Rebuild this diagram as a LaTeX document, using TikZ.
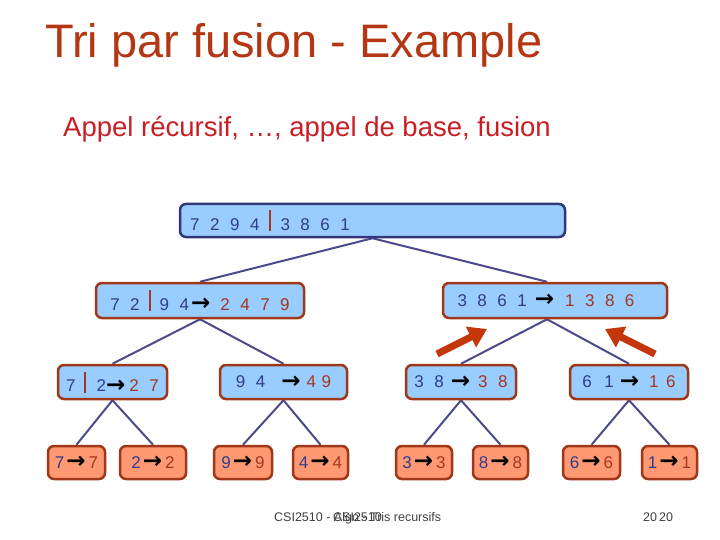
\documentclass[tikz,border=0pt]{standalone}
\usepackage{fontspec}
\setmainfont{Liberation Sans}
\newfontfamily\symfont{DejaVu Sans}
\usepackage{tikz}
\usetikzlibrary{arrows.meta,backgrounds}
\definecolor{titlered}{RGB}{180,55,20}
\definecolor{subred}{RGB}{200,30,35}
\definecolor{boxblue}{RGB}{153,204,255}
\definecolor{leaforange}{RGB}{255,153,115}
\definecolor{brd}{RGB}{160,55,25}
\definecolor{rootblue}{RGB}{50,55,120}
\definecolor{digblue}{RGB}{50,60,140}
\definecolor{digred}{RGB}{165,55,30}
\definecolor{edgeblue}{RGB}{75,75,140}
\definecolor{hintred}{RGB}{195,55,10}
\newcommand{\nb}[1]{\textcolor{digblue}{#1}}
\newcommand{\nr}[1]{\textcolor{digred}{#1}}
\newcommand{\cutbar}{\textcolor{digred}{\rule[-1pt]{2pt}{21pt}}}
\newcommand{\mto}{{\fontsize{23}{23}\symfont\bfseries\color{black}\raisebox{-0.5pt}{→}}}
\protected\def\digitgaps{\fontsize{17}{17}\selectfont\spaceskip=10.5pt\relax}
\tikzset{
  split/.style={draw=brd, fill=boxblue, line width=2.5pt, rounded corners=6pt,
    minimum height=34pt, inner sep=0pt, font=\digitgaps},
  leaf/.style={split, fill=leaforange, minimum height=33pt},
  link/.style={draw=edgeblue, line width=2pt},
  hint/.style={draw=hintred, line width=7pt, -{Triangle[length=18pt,width=22pt]}},
  foottext/.style={anchor=base west, inner sep=0pt, text=black!75, font=\fontsize{12.5}{12.5}\selectfont}
}
\begin{document}
\begin{tikzpicture}[x=1pt,y=-1pt]
\useasboundingbox (0,0) rectangle (720,540);
% titles
\node[anchor=base west, inner sep=0pt, text=titlered, font=\fontsize{47}{47}\selectfont] (title) at (45,58) {Tri par fusion - Example};
\node[anchor=base west, inner sep=0pt, text=subred, font=\fontsize{27.5}{27.5}\selectfont] (sub) at (63,137) {Appel récursif, \dots, appel de base, fusion};
% root
\node[split, draw=rootblue, minimum width=385pt, minimum height=33pt] (root) at (372.5,220.5)
  {\nb{7 2 9 4}\hspace{9pt}\cutbar\hspace{10pt}\nb{3 8 6 1}\hspace*{205pt}};
% level 1
\node[split, minimum width=208pt, minimum height=35pt] (l1a) at (200,300.5)
  {\nb{7 2}\hspace{9pt}\cutbar\hspace{9pt}\nb{9 4}\hspace{2pt}\mto\hspace{10pt}\nr{2 4 7 9}};
\node[split, minimum width=224pt, minimum height=35pt] (l1b) at (555,300.5)
  {\nb{3 8 6 1}\hspace{8pt}\mto\hspace{11pt}\nr{1 3 8 6}\hspace*{18pt}};
% level 2
\node[split, minimum width=109pt] (l2a) at (112.5,382) {\nb{7}\hspace{8pt}\cutbar\hspace{11pt}\nb{2}\mto\hspace{4pt}\nr{2 7}};
\node[split, minimum width=127pt] (l2b) at (283.5,382) {\nb{9 4}\hspace{16pt}\mto\hspace{6pt}\nr{4\hspace{5.5pt}9}};
\node[split, minimum width=110pt] (l2c) at (461,382) {\nb{3 8}\hspace{7pt}\mto\hspace{8pt}\nr{3 8}};
\node[split, minimum width=118pt] (l2d) at (629,382) {\nb{6\hspace{12.5pt}1}\hspace{6pt}\mto\hspace{10pt}\nr{1\hspace{7.5pt}6}};
% leaves
\node[leaf, minimum width=57pt] (l3a) at (76.5,462.5) {\nb{7}\hspace{2pt}\mto\hspace{3pt}\nr{7}};
\node[leaf, minimum width=66pt] (l3b) at (153,462.5) {\nb{2}\hspace{2pt}\mto\hspace{3pt}\nr{2}};
\node[leaf, minimum width=58pt] (l3c) at (243,462.5) {\nb{9}\hspace{2pt}\mto\hspace{3pt}\nr{9}};
\node[leaf, minimum width=55pt] (l3d) at (320.5,462.5) {\nb{4}\hspace{2pt}\mto\hspace{3pt}\nr{4}};
\node[leaf, minimum width=56pt] (l3e) at (424,462.5) {\nb{3}\hspace{2pt}\mto\hspace{3pt}\nr{3}};
\node[leaf, minimum width=55pt] (l3f) at (500.5,462.5) {\nb{8}\hspace{2pt}\mto\hspace{3pt}\nr{8}};
\node[leaf, minimum width=57pt] (l3g) at (591.5,462.5) {\nb{6}\hspace{2pt}\mto\hspace{3pt}\nr{6}};
\node[leaf, minimum width=55pt] (l3h) at (669.5,462.5) {\nb{1}\hspace{2pt}\mto\hspace{3pt}\nr{1}};
% tree edges, behind the boxes
\begin{scope}[on background layer]
\draw[link] (root.south) -- (l1a.north);
\draw[link] (root.south) -- ([xshift=-8pt]l1b.north);
\draw[link] (l1a.south) -- (l2a.north);
\draw[link] (l1a.south) -- (l2b.north);
\draw[link] ([xshift=-8pt]l1b.south) -- (l2c.north);
\draw[link] ([xshift=-8pt]l1b.south) -- (l2d.north);
\draw[link] (l2a.south) -- (l3a.north);
\draw[link] (l2a.south) -- (l3b.north);
\draw[link] (l2b.south) -- (l3c.north);
\draw[link] (l2b.south) -- (l3d.north);
\draw[link] (l2c.south) -- (l3e.north);
\draw[link] (l2c.south) -- (l3f.north);
\draw[link] (l2d.south) -- (l3g.north);
\draw[link] (l2d.south) -- (l3h.north);
\end{scope}
% merge hints
\coordinate (hla) at (437,354);
\coordinate (hlb) at (487,329);
\coordinate (hra) at (655,354);
\coordinate (hrb) at (605,329);
\draw[hint] (hla) -- (hlb);
\draw[hint] (hra) -- (hrb);
% footer
\node[foottext] (foot) at (274,521) {CSI2510 - Algo - Tris recursifs};
\node[foottext] (foot2) at (333,521) {CSI2510};
\node[foottext] (pg) at (643,521) {20};
\node[foottext] (pg2) at (659,521) {20};
\end{tikzpicture}
\end{document}
